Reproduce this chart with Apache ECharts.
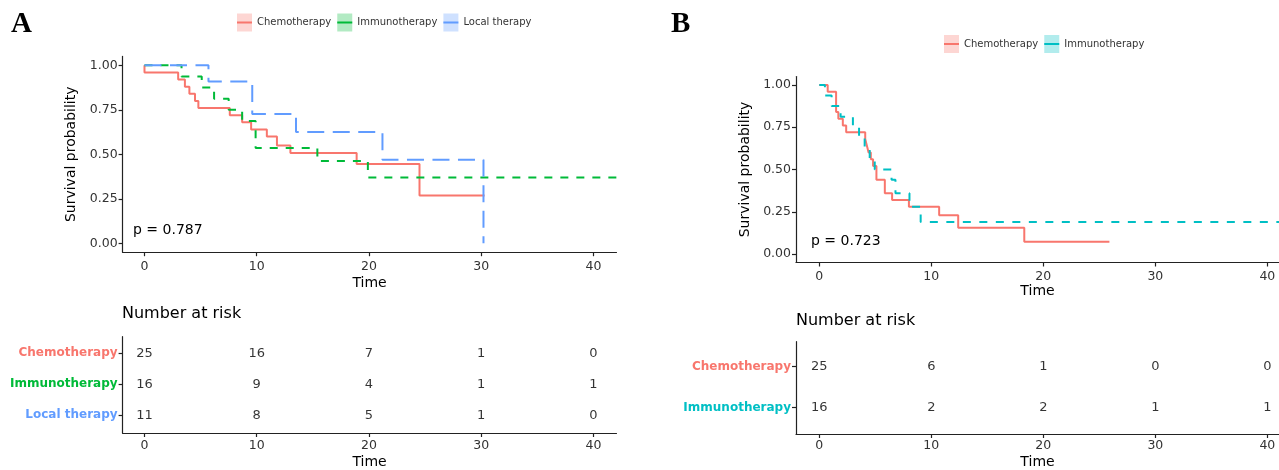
<!DOCTYPE html>
<html>
<head>
<meta charset="utf-8">
<script src="https://cdn.jsdelivr.net/npm/echarts@6/dist/echarts.min.js"></script>
<style>html,body{margin:0;padding:0;background:#fff;}#c{width:1279px;height:470px;}</style>
</head>
<body>
<div id="c"></div>
<script>
// ---- ticks ----
const timeTicks = [0, 10, 20, 30, 40];
const survTicks = [0, 0.25, 0.5, 0.75, 1];
const survTickLabels = ['0.00', '0.25', '0.50', '0.75', '1.00'];

// ---- Panel A survival curves (time of step, survival after step) ----
const aChemoTime = [0, 0, 3.0, 3.6, 4.0, 4.5, 4.8, 7.6, 8.7, 9.5, 10.9, 11.8, 13.0, 18.9, 24.5, 30.3];
const aChemoSurv = [1, 0.96, 0.92, 0.88, 0.84, 0.80, 0.76, 0.72, 0.68, 0.64, 0.60, 0.55, 0.507, 0.445, 0.268, 0.268];
const aImmunoTime = [0, 3.3, 5.1, 6.2, 7.5, 8.7, 9.9, 15.4, 19.9, 44];
const aImmunoSurv = [1, 0.9375, 0.875, 0.8125, 0.75, 0.6875, 0.535, 0.463, 0.37, 0.37];
const aLocalTime = [0, 5.7, 9.6, 13.5, 21.2, 30.2];
const aLocalSurv = [1, 0.909, 0.727, 0.625, 0.469, 0];

// ---- Panel B survival curves ----
const bChemoTime = [0, 0.75, 1.5, 1.7, 2.1, 2.4, 4.1, 4.25, 4.4, 4.6, 4.8, 5.1, 5.85, 6.5, 8.0, 10.7, 12.4, 18.3, 25.9];
const bChemoSurv = [1, 0.96, 0.84, 0.80, 0.76, 0.72, 0.68, 0.64, 0.60, 0.56, 0.52, 0.44, 0.36, 0.32, 0.28, 0.23, 0.155, 0.073, 0.073];
const bImmunoTime = [0, 0.5, 1.1, 1.9, 3.0, 3.55, 4.05, 4.5, 4.95, 6.45, 6.8, 8.05, 9.05, 44];
const bImmunoSurv = [1, 0.9375, 0.875, 0.8125, 0.75, 0.6875, 0.625, 0.5625, 0.5, 0.44, 0.36, 0.28, 0.19, 0.19];

// ---- risk tables ----
const riskTimes = [0, 10, 20, 30, 40];
const aGroups = ['Chemotherapy', 'Immunotherapy', 'Local therapy'];
const aRiskChemo = [25, 16, 7, 1, 0];
const aRiskImmuno = [16, 9, 4, 1, 1];
const aRiskLocal = [11, 8, 5, 1, 0];
const bGroups = ['Chemotherapy', 'Immunotherapy'];
const bRiskChemo = [25, 6, 1, 0, 0];
const bRiskImmuno = [16, 2, 2, 1, 1];

const pValA = 'p = 0.787';
const pValB = 'p = 0.723';

// ---- styling ----
const FONT = 'DejaVu Sans';
const RED = '#F8766D', GREEN = '#00BA38', BLUE = '#619CFF', CYAN = '#00BFC4';
const aColors = [RED, GREEN, BLUE];
const bColors = [RED, CYAN];
const light = { [RED]: 'rgba(248,118,109,0.3)', [GREEN]: 'rgba(0,186,56,0.3)', [BLUE]: 'rgba(97,156,255,0.3)', [CYAN]: 'rgba(0,191,196,0.3)' };

const zip = (t, s) => t.map((v, i) => [v, s[i]]);
const AXC = '#222';

function xAxisCfg(grid, min, max, nameGap, margin) {
  return {
    type: 'value', gridIndex: grid, min: min, max: max,
    name: 'Time', nameLocation: 'middle', nameGap: nameGap,
    nameTextStyle: { fontFamily: FONT, fontSize: 14, color: '#000' },
    axisLine: { show: true, onZero: false, lineStyle: { color: AXC, width: 1.2 } },
    axisTick: { show: true, length: 4, customValues: timeTicks, lineStyle: { color: AXC, width: 1.2 } },
    axisLabel: { customValues: timeTicks, margin: margin, fontFamily: FONT, fontSize: 12.5, color: '#333' },
    splitLine: { show: false }
  };
}
function ySurvCfg(grid) {
  return {
    type: 'value', gridIndex: grid, min: -0.05, max: 1.05,
    name: 'Survival probability', nameLocation: 'middle', nameGap: 44,
    nameTextStyle: { fontFamily: FONT, fontSize: 14, color: '#000' },
    axisLine: { show: true, onZero: false, lineStyle: { color: AXC, width: 1.2 } },
    axisTick: { show: true, length: 4, customValues: survTicks, lineStyle: { color: AXC, width: 1.2 } },
    axisLabel: { customValues: survTicks, margin: 5, fontFamily: FONT, fontSize: 12.5, color: '#333',
      formatter: v => { const k = survTicks.indexOf(v); return k >= 0 ? survTickLabels[k] : v.toFixed(2); } },
    splitLine: { show: false }
  };
}
function yTableCfg(grid, groups, colors, min, max) {
  const rich = {};
  groups.forEach((g, i) => { rich['g' + i] = { color: colors[i], fontWeight: 'bold', fontSize: 12, fontFamily: FONT }; });
  const vals = groups.map((g, i) => i);
  return {
    type: 'value', gridIndex: grid, min: min, max: max, inverse: true,
    axisLine: { show: true, onZero: false, lineStyle: { color: AXC, width: 1.2 } },
    axisTick: { show: true, length: 4, customValues: vals, lineStyle: { color: AXC, width: 1.2 } },
    axisLabel: { customValues: vals, margin: 5, formatter: v => { const i = Math.round(v); return '{g' + i + '|' + groups[i] + '}'; }, rich: rich },
    splitLine: { show: false }
  };
}
function curve(name, t, s, color, dash, xi, yi) {
  return {
    type: 'line', name: name, xAxisIndex: xi, yAxisIndex: yi, step: 'end',
    data: zip(t, s), symbol: 'none', showSymbol: false, clip: true,
    color: color,
    lineStyle: { color: color, width: 2, type: dash },
    emphasis: { disabled: true }
  };
}
function table(rows, xi, yi) {
  const data = [];
  rows.forEach((r, ri) => r.forEach((n, ti) => data.push([riskTimes[ti], ri, n])));
  return {
    type: 'scatter', xAxisIndex: xi, yAxisIndex: yi, data: data, symbolSize: 1,
    itemStyle: { color: 'rgba(0,0,0,0)' },
    label: { show: true, position: 'inside', formatter: p => String(p.value[2]), fontFamily: FONT, fontSize: 13, color: '#000' },
    emphasis: { disabled: true }, silent: true
  };
}
// line icon inside a full-height (15x18) bounding box so it sits centred in the key
const LINE_ICON = 'path://M0,0h15v0.01h-15z M0,8h15v2h-15z M0,17.99h15v0.01h-15z';
function legends(left, top, names, colors) {
  const base = { left: left, top: top, orient: 'horizontal', itemWidth: 15, itemHeight: 18, itemGap: 6, padding: 0, selectedMode: false };
  return [
    Object.assign({}, base, {
      icon: 'rect',
      textStyle: { fontFamily: FONT, fontSize: 10, color: '#333' },
      data: names.map((n, i) => ({ name: n, icon: 'rect', itemStyle: { color: light[colors[i]], borderWidth: 0 } }))
    }),
    Object.assign({}, base, {
      z: 6,
      textStyle: { fontFamily: FONT, fontSize: 10, color: 'rgba(0,0,0,0)' },
      data: names.map((n, i) => ({ name: n, icon: LINE_ICON, itemStyle: { color: colors[i], borderWidth: 0 } }))
    })
  ];
}

const AXMIN = -1.95, AXMAX = 42.05;
const BXMIN = -2.08, BXMAX = 41.04;

const option = {
  animation: false,
  backgroundColor: '#fff',
  textStyle: { fontFamily: FONT },
  grid: [
    { left: 122.6, top: 56.4, width: 493.9, height: 195.8 },
    { left: 122.6, top: 336.7, width: 493.9, height: 97.3 },
    { left: 796, top: 76.5, width: 483, height: 186 },
    { left: 796, top: 341.7, width: 483, height: 93.3 }
  ],
  xAxis: [
    xAxisCfg(0, AXMIN, AXMAX, 24, 8),
    xAxisCfg(1, AXMIN, AXMAX, 22, 6),
    xAxisCfg(2, BXMIN, BXMAX, 22, 8),
    xAxisCfg(3, BXMIN, BXMAX, 21, 5)
  ],
  yAxis: [
    ySurvCfg(0),
    yTableCfg(1, aGroups, aColors, -0.53, 2.57),
    ySurvCfg(2),
    yTableCfg(3, bGroups, bColors, -0.6, 1.64)
  ],
  legend: [].concat(
    legends(237, 13.5, aGroups, aColors),
    legends(944, 35, bGroups, bColors)
  ),
  series: [
    curve('Chemotherapy', aChemoTime, aChemoSurv, RED, 'solid', 0, 0),
    curve('Immunotherapy', aImmunoTime, aImmunoSurv, GREEN, [8, 8], 0, 0),
    curve('Local therapy', aLocalTime, aLocalSurv, BLUE, [17, 8.5], 0, 0),
    table([aRiskChemo, aRiskImmuno, aRiskLocal], 1, 1),
    curve('Chemotherapy', bChemoTime, bChemoSurv, RED, 'solid', 2, 2),
    curve('Immunotherapy', bImmunoTime, bImmunoSurv, CYAN, [8, 8.5], 2, 2),
    table([bRiskChemo, bRiskImmuno], 3, 3)
  ],
  graphic: [
    { type: 'text', left: 11, top: 10, style: { text: 'A', font: 'bold 29px "Liberation Serif"', fill: '#000' } },
    { type: 'text', left: 671, top: 10, style: { text: 'B', font: 'bold 29px "Liberation Serif"', fill: '#000' } },
    { type: 'text', left: 133, top: 223, style: { text: pValA, font: '14px "DejaVu Sans"', fill: '#000' } },
    { type: 'text', left: 811, top: 234, style: { text: pValB, font: '14px "DejaVu Sans"', fill: '#000' } },
    { type: 'text', left: 122, top: 306, style: { text: 'Number at risk', font: '16px "DejaVu Sans"', fill: '#000' } },
    { type: 'text', left: 796, top: 313, style: { text: 'Number at risk', font: '16px "DejaVu Sans"', fill: '#000' } }
  ]
};

const chart = echarts.init(document.getElementById('c'), null, { renderer: 'canvas' });
chart.setOption(option);
</script>
</body>
</html>
